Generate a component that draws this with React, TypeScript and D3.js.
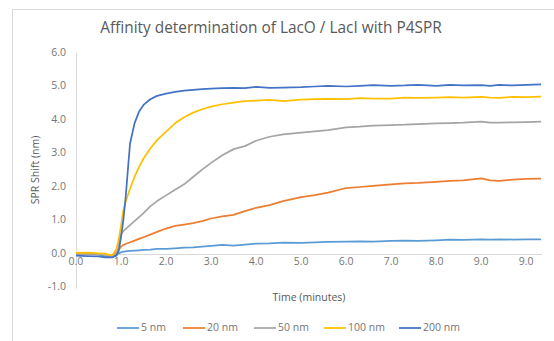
import React from "react";
import * as d3 from "d3";

const time = [0, 0.25, 0.5, 0.65, 0.8, 0.9, 0.95, 1.0, 1.05, 1.1, 1.2, 1.3, 1.4, 1.5, 1.65, 1.8, 2.0, 2.2, 2.4, 2.6, 2.8, 3.0, 3.25, 3.5, 3.75, 4.0, 4.3, 4.6, 5.0, 5.3, 5.6, 6.0, 6.3, 6.6, 7.0, 7.3, 7.6, 8.0, 8.3, 8.6, 9.0, 9.2, 9.4, 9.7, 10.0, 10.33];

const s5nm = [0.0, 0.01, -0.01, -0.08, -0.09, -0.02, 0.02, 0.05, 0.07, 0.08, 0.09, 0.1, 0.11, 0.12, 0.13, 0.15, 0.15, 0.17, 0.19, 0.2, 0.22, 0.24, 0.27, 0.25, 0.28, 0.31, 0.32, 0.34, 0.33, 0.35, 0.36, 0.37, 0.38, 0.37, 0.39, 0.4, 0.39, 0.41, 0.43, 0.42, 0.44, 0.43, 0.44, 0.43, 0.44, 0.44];
const s20nm = [0.0, 0.01, 0.0, -0.02, -0.04, 0.02, 0.12, 0.22, 0.27, 0.3, 0.35, 0.4, 0.45, 0.5, 0.58, 0.66, 0.76, 0.84, 0.88, 0.92, 0.98, 1.06, 1.12, 1.17, 1.28, 1.38, 1.46, 1.58, 1.7, 1.76, 1.83, 1.97, 2.0, 2.03, 2.08, 2.11, 2.12, 2.15, 2.18, 2.2, 2.26, 2.2, 2.18, 2.22, 2.24, 2.25];
const s50nm = [0.0, 0.01, 0.0, -0.02, -0.04, 0.05, 0.35, 0.6, 0.68, 0.74, 0.86, 0.98, 1.1, 1.22, 1.42, 1.58, 1.75, 1.92, 2.08, 2.3, 2.52, 2.72, 2.95, 3.13, 3.22, 3.38, 3.5, 3.57, 3.62, 3.66, 3.7, 3.78, 3.8, 3.83, 3.85, 3.86, 3.88, 3.9, 3.91, 3.92, 3.95, 3.92, 3.92, 3.93, 3.94, 3.95];
const s100nm = [0.03, 0.04, 0.02, 0.01, -0.05, 0.15, 0.45, 0.85, 1.3, 1.55, 1.95, 2.3, 2.6, 2.85, 3.15, 3.4, 3.65, 3.9, 4.08, 4.22, 4.32, 4.4, 4.47, 4.52, 4.56, 4.58, 4.6, 4.56, 4.61, 4.62, 4.63, 4.62, 4.65, 4.64, 4.64, 4.67, 4.66, 4.67, 4.68, 4.67, 4.69, 4.67, 4.66, 4.69, 4.68, 4.7];
const s200nm = [-0.05, -0.06, -0.07, -0.1, -0.1, -0.05, 0.1, 0.5, 1.0, 1.65, 3.3, 3.9, 4.25, 4.45, 4.62, 4.72, 4.79, 4.84, 4.88, 4.9, 4.92, 4.94, 4.95, 4.96, 4.95, 4.99, 4.96, 4.97, 4.98, 5.0, 5.02, 5.0, 5.02, 5.04, 5.02, 5.03, 5.05, 5.02, 5.05, 5.03, 5.04, 5.02, 5.05, 5.03, 5.05, 5.06];

const seriesNames = ["5 nm", "20 nm", "50 nm", "100 nm", "200 nm"];
const seriesValues = [s5nm, s20nm, s50nm, s100nm, s200nm];
const seriesColors = ["#5B9BD5", "#ED7D31", "#A5A5A5", "#FFC000", "#4472C4"];

const xTickLabels = ["0.0", "1.0", "2.0", "3.0", "4.0", "5.0", "6.0", "7.0", "8.0", "9.0", "9.0"];
const yTicks = [-1, 0, 1, 2, 3, 4, 5, 6];

const title = "Affinity determination of LacO / LacI with P4SPR";
const xTitle = "Time (minutes)";
const yTitle = "SPR Shift (nm)";

export default function App() {
  const W = 554, H = 341;
  const x = d3.scaleLinear().domain([0, 10.35]).range([76, 542]);
  const y = d3.scaleLinear().domain([-1, 6]).range([287.5, 53]);
  const font = "'Open Sans', sans-serif";
  const txt = "#595959";
  const tickCol = "#757575";
  const axisCol = "#D9D9D9";
  const line = d3.line<[number, number]>().x(d => x(d[0])).y(d => y(d[1]));
  const legendX = [117, 183, 254, 324, 399];

  return (
    <svg width={W} height={H} style={{ position: "absolute", left: 0, top: 0, background: "#fff" }} fontFamily={font}>
      <rect x={0} y={0} width={W} height={H} fill="#fff" />
      <path d={`M12.5,${H + 2} V9.5 H${W + 2}`} fill="none" stroke={axisCol} strokeWidth={1} />
      <text x={271} y={29} textAnchor="middle" dominantBaseline="middle" fontSize={15.4} fill={txt}>{title}</text>
      <line x1={76.5} x2={76.5} y1={y(6)} y2={y(-1) + 1} stroke={axisCol} strokeWidth={1} />
      <line x1={76} x2={542} y1={Math.round(y(0)) + 0.5} y2={Math.round(y(0)) + 0.5} stroke={axisCol} strokeWidth={1} />
      {yTicks.map(t => (
        <text key={t} x={66} y={y(t)} textAnchor="end" dominantBaseline="middle" fontSize={10.5} fill={tickCol}>{t.toFixed(1)}</text>
      ))}
      {xTickLabels.map((l, i) => (
        <text key={i} x={x(i)} y={262} textAnchor="middle" dominantBaseline="middle" fontSize={10.5} fill={tickCol}>{l}</text>
      ))}
      <text x={309} y={298} textAnchor="middle" dominantBaseline="middle" fontSize={10.5} fill={txt}>{xTitle}</text>
      <text transform={`translate(36,170) rotate(-90)`} textAnchor="middle" dominantBaseline="middle" fontSize={10.5} fill={txt}>{yTitle}</text>
      {seriesValues.map((vals, si) => (
        <path key={si} d={line(time.map((t, i) => [t, vals[i]] as [number, number])) || ""} fill="none" stroke={seriesColors[si]} strokeWidth={1.75} strokeLinejoin="round" />
      ))}
      {seriesNames.map((n, i) => (
        <g key={n}>
          <line x1={legendX[i]} x2={legendX[i] + 22} y1={328} y2={328} stroke={seriesColors[i]} strokeWidth={1.75} />
          <text x={legendX[i] + 24} y={328} dominantBaseline="middle" fontSize={10.5} fill={tickCol}>{n}</text>
        </g>
      ))}
    </svg>
  );
}
